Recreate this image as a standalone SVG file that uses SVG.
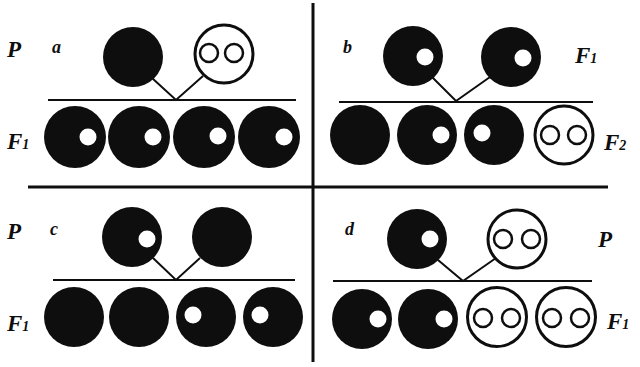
<svg xmlns="http://www.w3.org/2000/svg" width="640" height="367" viewBox="0 0 640 367">
<style>
.blk{fill:#0e0e0e}
.wht{fill:#fff;stroke:#0e0e0e;stroke-width:3}
.in{fill:none;stroke:#0e0e0e;stroke-width:2.5}
.hole{fill:#fff}
.ln{stroke:#0e0e0e;stroke-width:2;fill:none}
.div{stroke:#0e0e0e;stroke-width:3;fill:none}
.lbl{font-family:"Liberation Serif","DejaVu Serif",serif;font-weight:bold;font-style:italic;fill:#0e0e0e}
.big{font-size:23px}
.sm{font-size:18px}
.sub{font-size:14px}
</style>
<rect width="640" height="367" fill="#fff"/>
<g id="dividers">
<line class="div" x1="313" y1="3" x2="313" y2="362"/>
<line class="div" x1="28" y1="187" x2="608" y2="187"/>
</g>
<g id="bars">
<line class="ln" x1="48" y1="100" x2="296" y2="100"/>
<line class="ln" x1="339" y1="102" x2="593" y2="102"/>
<line class="ln" x1="53" y1="280" x2="295" y2="280"/>
<line class="ln" x1="333" y1="281" x2="592" y2="281"/>
</g>
<g id="connectors">
<polyline class="ln" points="152,78 176,100 203,76"/>
<polyline class="ln" points="432,77 456,101 490,77"/>
<polyline class="ln" points="153,258 176,280 200,258"/>
<polyline class="ln" points="438,260 463,281 496,258"/>
</g>
<g id="labels">
<text class="lbl big" x="7" y="57">P</text>
<text class="lbl sm" x="52" y="53">a</text>
<text class="lbl big" x="7" y="149">F<tspan class="sub">1</tspan></text>
<text class="lbl sm" x="343" y="53">b</text>
<text class="lbl big" x="575" y="63">F<tspan class="sub">1</tspan></text>
<text class="lbl big" x="604" y="150">F<tspan class="sub">2</tspan></text>
<text class="lbl big" x="7" y="239">P</text>
<text class="lbl sm" x="50" y="235">c</text>
<text class="lbl big" x="7" y="331">F<tspan class="sub">1</tspan></text>
<text class="lbl sm" x="345" y="235">d</text>
<text class="lbl big" x="598" y="247">P</text>
<text class="lbl big" x="607" y="329">F<tspan class="sub">1</tspan></text>
</g>
<!-- quadrant a -->
<g id="a-p1"><circle class="blk" cx="133" cy="57" r="30"/></g>
<g id="a-p2"><circle class="wht" cx="224" cy="54" r="29"/><circle class="in" cx="209" cy="53" r="9"/><circle class="in" cx="234" cy="53" r="9"/></g>
<g id="a-f1"><circle class="blk" cx="75" cy="137" r="31"/><circle class="hole" cx="88" cy="137" r="8.5"/></g>
<g id="a-f2"><circle class="blk" cx="139" cy="137" r="31"/><circle class="hole" cx="153" cy="137" r="8.5"/></g>
<g id="a-f3"><circle class="blk" cx="204" cy="137" r="31"/><circle class="hole" cx="218" cy="136" r="8.5"/></g>
<g id="a-f4"><circle class="blk" cx="269" cy="137" r="31"/><circle class="hole" cx="284" cy="137" r="8.5"/></g>
<!-- quadrant b -->
<g id="b-p1"><circle class="blk" cx="413" cy="56" r="30"/><circle class="hole" cx="425" cy="57" r="8.5"/></g>
<g id="b-p2"><circle class="blk" cx="511" cy="57" r="30"/><circle class="hole" cx="523" cy="58" r="8.5"/></g>
<g id="b-f1"><circle class="blk" cx="360" cy="135" r="30"/></g>
<g id="b-f2"><circle class="blk" cx="427" cy="135" r="30"/><circle class="hole" cx="441" cy="135" r="8.5"/></g>
<g id="b-f3"><circle class="blk" cx="494" cy="135" r="30"/><circle class="hole" cx="482" cy="133" r="8.5"/></g>
<g id="b-f4"><circle class="wht" cx="564" cy="135" r="29"/><circle class="in" cx="550" cy="135" r="9"/><circle class="in" cx="577" cy="135" r="9"/></g>
<!-- quadrant c -->
<g id="c-p1"><circle class="blk" cx="132" cy="237" r="30"/><circle class="hole" cx="147" cy="239" r="8.5"/></g>
<g id="c-p2"><circle class="blk" cx="222" cy="237" r="30"/></g>
<g id="c-f1"><circle class="blk" cx="74" cy="317" r="30"/></g>
<g id="c-f2"><circle class="blk" cx="139" cy="317" r="30"/></g>
<g id="c-f3"><circle class="blk" cx="206" cy="317" r="30"/><circle class="hole" cx="193" cy="315" r="8.5"/></g>
<g id="c-f4"><circle class="blk" cx="273" cy="317" r="30"/><circle class="hole" cx="260" cy="315" r="8.5"/></g>
<!-- quadrant d -->
<g id="d-p1"><circle class="blk" cx="417" cy="239" r="30"/><circle class="hole" cx="430" cy="239" r="8.5"/></g>
<g id="d-p2"><circle class="wht" cx="517" cy="239" r="29"/><circle class="in" cx="503" cy="239" r="9"/><circle class="in" cx="531" cy="239" r="9"/></g>
<g id="d-f1"><circle class="blk" cx="362" cy="319" r="30"/><circle class="hole" cx="378" cy="319" r="8.5"/></g>
<g id="d-f2"><circle class="blk" cx="428" cy="319" r="30"/><circle class="hole" cx="444" cy="319" r="8.5"/></g>
<g id="d-f3"><circle class="wht" cx="497" cy="317" r="29.5"/><circle class="in" cx="483" cy="318" r="9"/><circle class="in" cx="511" cy="318" r="9"/></g>
<g id="d-f4"><circle class="wht" cx="566" cy="317" r="29.5"/><circle class="in" cx="552" cy="318" r="9"/><circle class="in" cx="580" cy="318" r="9"/></g>
</svg>
